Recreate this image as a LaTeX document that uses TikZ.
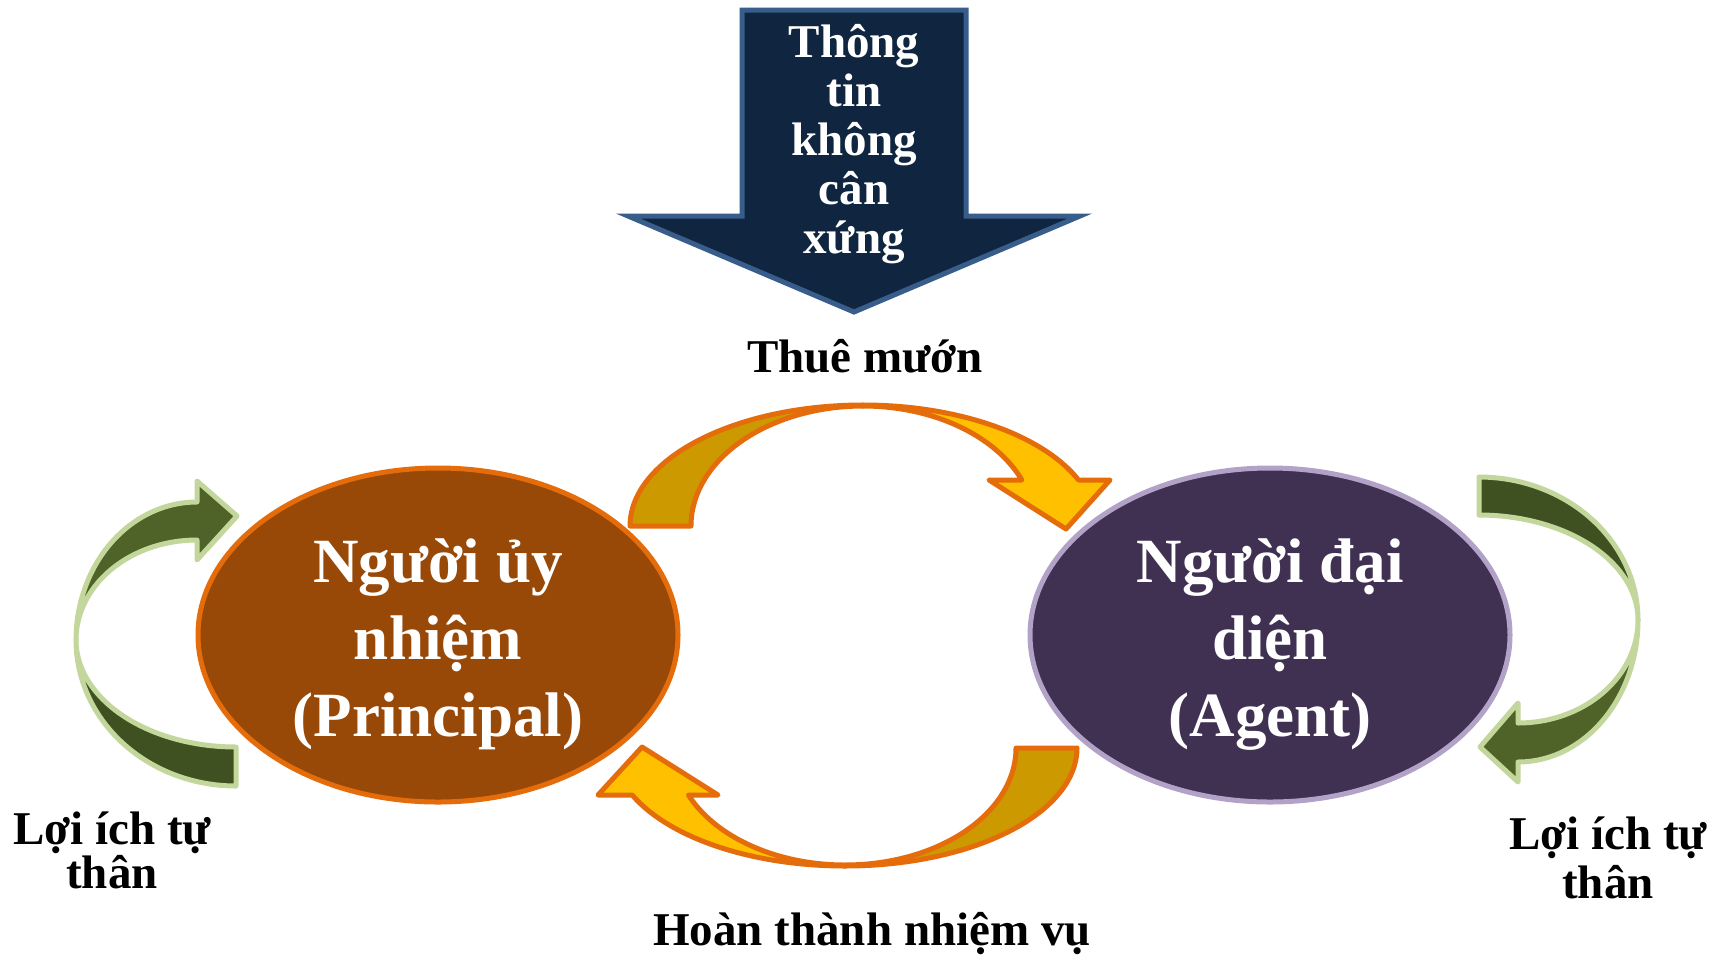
\documentclass[tikz,border=0pt]{standalone}
\usepackage{fontspec}
\setmainfont{Liberation Serif}
\usetikzlibrary{shapes.geometric}

\definecolor{navyfill}{HTML}{10253F}
\definecolor{navyline}{HTML}{385D8A}
\definecolor{rustfill}{HTML}{984807}
\definecolor{orangeline}{HTML}{E46C0A}
\definecolor{plumfill}{HTML}{403152}
\definecolor{lilacline}{HTML}{B3A2C7}
\definecolor{goldback}{HTML}{CC9A00}
\definecolor{goldfront}{HTML}{FFC000}
\definecolor{oliveback}{HTML}{3F5121}
\definecolor{olivefront}{HTML}{4F6228}
\definecolor{sageline}{HTML}{C3D69B}

% centred lines with a fixed baseline distance; the box baseline is the first line
\newcommand\linestack[2]{\vtop{\baselineskip=#1\lineskiplimit=-1000pt\lineskip=0pt\halign{\hfil##\hfil\cr#2\crcr}}}

\tikzset{
  party/.style={ellipse, line width=5pt, minimum width=480pt, minimum height=334pt, inner sep=0pt},
  bigtext/.style={text=white, font=\bfseries\fontsize{63}{77}\selectfont, inner sep=0pt, anchor=base},
  infotext/.style={text=white, font=\bfseries\fontsize{47}{49}\selectfont, inner sep=0pt, anchor=base},
  caption/.style={text=black, font=\bfseries\fontsize{47}{49}\selectfont, inner sep=0pt, anchor=base},
  goldband/.style={draw=orangeline, line width=5pt, line join=round},
  oliveband/.style={draw=sageline, line width=5pt, line join=round},
  blockarrow/.style={draw=navyline, fill=navyfill, line width=5pt, line join=miter},
}

\begin{document}
\begin{tikzpicture}[x=1pt, y=-1pt, samples=60]
\useasboundingbox (0,0) rectangle (1729,954);
\fill[white] (0,0) rectangle (1729,954);

% asymmetric information arrow
\draw[blockarrow] (742,10) -- (966,10) -- (966,216) -- (1080,216) -- (854,312)
  -- (628,216) -- (742,216) -- cycle;
\node[infotext] (info) at (854,57) {\linestack{49pt}{Thông\cr tin\cr không\cr cân\cr xứng}};

% the two parties
\node[party, draw=orangeline, fill=rustfill] (principal) at (438,635) {};
\node[party, draw=lilacline, fill=plumfill] (agent) at (1270,635) {};
\node[bigtext] (principaltext) at (438,582) {\linestack{77pt}{Người ủy\cr nhiệm\cr (Principal)}};
\node[bigtext] (agenttext) at (1270,582) {\linestack{77pt}{Người đại\cr diện\cr (Agent)}};

% hiring: curved arrow over the top, principal -> agent
\draw[goldband, fill=goldback]
  plot[domain=180:270] ({863+233*cos(\x)},{526+121*sin(\x)})
  -- plot[domain=270:180] ({863+172*cos(\x)},{526+120*sin(\x)}) -- cycle;
\draw[goldband, fill=goldfront]
  plot[domain=270:337.65] ({863+233*cos(\x)},{526+121*sin(\x)})
  -- (1110,480) -- (1066,529) -- (989,480)
  -- plot[domain=337.46:270] ({863+172*cos(\x)},{526+120*sin(\x)}) -- cycle;

% task completion: curved arrow underneath, agent -> principal
\draw[goldband, fill=goldback]
  plot[domain=0:90] ({845+232*cos(\x)},{748+118*sin(\x)})
  -- plot[domain=90:0] ({845+171*cos(\x)},{748+117*sin(\x)}) -- cycle;
\draw[goldband, fill=goldfront]
  plot[domain=90:156.53] ({845+232*cos(\x)},{748+118*sin(\x)})
  -- (598,795) -- (642,747) -- (718,795)
  -- plot[domain=156.31:90] ({845+171*cos(\x)},{748+117*sin(\x)}) -- cycle;

% self-interest loop of the principal
\draw[oliveband, fill=oliveback]
  plot[domain=90:180] ({236+160*cos(\x)},{640+146*sin(\x)})
  -- plot[domain=180:90] ({236+160*cos(\x)},{640+107*sin(\x)}) -- cycle;
\draw[oliveband, fill=olivefront]
  plot[domain=180:270] ({197+121*cos(\x)},{640+138*sin(\x)})
  -- (197,481) -- (237,516) -- (197,560)
  -- plot[domain=270:180] ({197+121*cos(\x)},{640+100*sin(\x)}) -- cycle;

% self-interest loop of the agent
\draw[oliveband, fill=oliveback]
  plot[domain=-90:0] ({1479+159*cos(\x)},{620+143*sin(\x)})
  -- plot[domain=0:-90] ({1479+159*cos(\x)},{620+105*sin(\x)}) -- cycle;
\draw[oliveband, fill=olivefront]
  plot[domain=0:90] ({1518+120*cos(\x)},{620+142*sin(\x)})
  -- (1518,782) -- (1480,747) -- (1518,703)
  -- plot[domain=90:0] ({1518+120*cos(\x)},{620+103*sin(\x)}) -- cycle;

% captions
\node[caption] (hire) at (865,372) {Thuê mướn};
\node[caption] (done) at (872,945) {Hoàn thành nhiệm vụ};
\node[caption] (selfleft) at (112,844) {\linestack{44pt}{Lợi ích tự\cr thân}};
\node[caption] (selfright) at (1608,849) {\linestack{49pt}{Lợi ích tự\cr thân}};
\end{tikzpicture}
\end{document}
